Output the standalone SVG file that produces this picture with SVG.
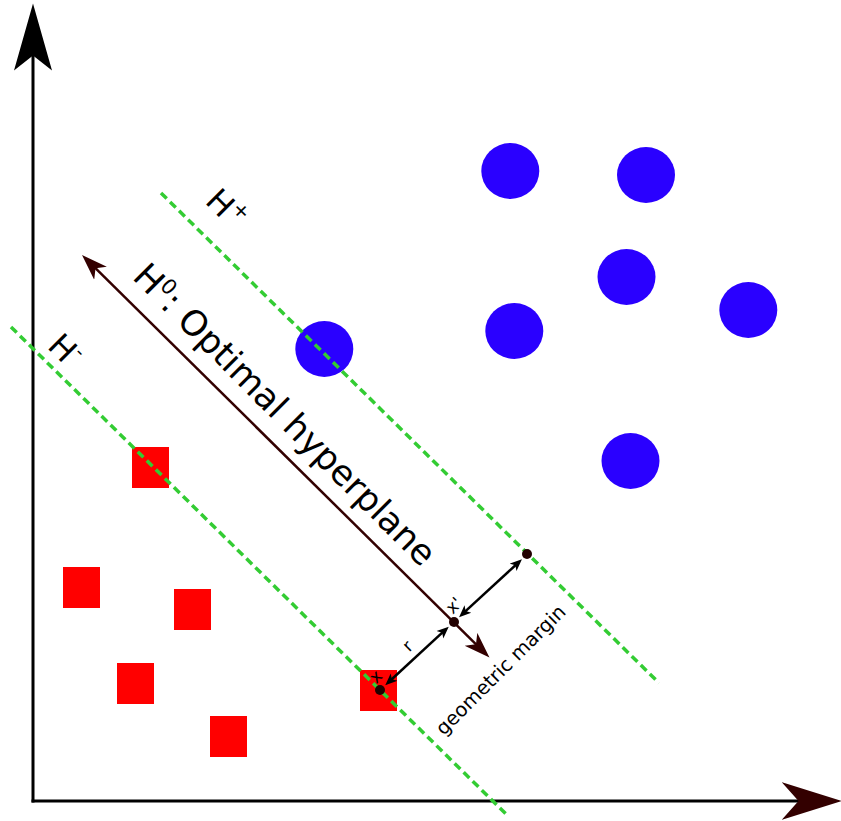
<svg xmlns="http://www.w3.org/2000/svg" width="841" height="821" viewBox="0 0 841 821">
<style>
  .txt { font-family: "DejaVu Sans", "Liberation Sans", sans-serif; fill: #000; }
  .blue { fill: #2a00ff; }
  .red { fill: #ff0000; }
  .margin { stroke: #33cc33; stroke-width: 3.5; stroke-dasharray: 8 4.7; fill: none; }
  .axis { stroke: #000; stroke-width: 3; fill: none; }
  .hyper { stroke: #330000; stroke-width: 2.5; fill: none; }
  .dbl { stroke: #000; stroke-width: 2.5; fill: none; }
  .pt { fill: #220000; }
</style>
<defs>
  <marker id="axV" markerUnits="userSpaceOnUse" viewBox="0 -20 68 40" refX="17" refY="0" markerWidth="68" markerHeight="40" orient="auto">
    <path d="M0,-19 L67,0 L0,19 L15,0 Z" fill="#000"/>
  </marker>
  <marker id="axH" markerUnits="userSpaceOnUse" viewBox="0 -20 61 40" refX="19" refY="0" markerWidth="61" markerHeight="40" orient="auto">
    <path d="M0,-19 L60,0 L0,19 L17,0 Z" fill="#330000"/>
  </marker>
  <marker id="hyp" markerUnits="userSpaceOnUse" viewBox="0 -10 27 20" refX="10" refY="0" markerWidth="27" markerHeight="20" orient="auto-start-reverse">
    <path d="M0,-9 L26,0 L0,9 L7,0 Z" fill="#330000"/>
  </marker>
  <marker id="sm" markerUnits="userSpaceOnUse" viewBox="0 -6 13 12" refX="5" refY="0" markerWidth="13" markerHeight="12" orient="auto-start-reverse">
    <path d="M0,-5 L12,0 L0,5 L3,0 Z" fill="#000"/>
  </marker>
</defs>

<g id="axes">
  <line class="axis" x1="33" y1="802.5" x2="33" y2="53.5" marker-end="url(#axV)"/>
  <line class="axis" x1="31.5" y1="801" x2="800.5" y2="801" marker-end="url(#axH)"/>
</g>

<g id="class-plus">
  <ellipse class="blue" cx="510.3" cy="171" rx="29" ry="28"/>
  <ellipse class="blue" cx="646" cy="175" rx="29" ry="28"/>
  <ellipse class="blue" cx="626.5" cy="277" rx="29" ry="28"/>
  <ellipse class="blue" cx="514.3" cy="331" rx="29" ry="28"/>
  <ellipse class="blue" cx="748.3" cy="310" rx="29" ry="28"/>
  <ellipse class="blue" cx="630.5" cy="461" rx="29" ry="28"/>
  <ellipse class="blue" cx="324.3" cy="349" rx="29" ry="28"/>
</g>

<g id="class-minus">
  <rect class="red" x="132" y="447" width="37" height="41"/>
  <rect class="red" x="63" y="567" width="37" height="41"/>
  <rect class="red" x="174" y="589" width="37" height="41"/>
  <rect class="red" x="117" y="663" width="37" height="41"/>
  <rect class="red" x="210" y="716" width="37" height="41"/>
  <rect class="red" x="360" y="670" width="37" height="41"/>
</g>

<g id="margins">
  <line class="margin" x1="161" y1="193" x2="659" y2="683"/>
  <line class="margin" x1="11" y1="327" x2="507" y2="815"/>
</g>

<g id="connectors">
  <line class="hyper" x1="93.4" y1="266.2" x2="478.1" y2="646.3" marker-start="url(#hyp)" marker-end="url(#hyp)"/>
  <line class="dbl" x1="390.4" y1="680.5" x2="443.6" y2="631.4" marker-start="url(#sm)" marker-end="url(#sm)"/>
  <line class="dbl" x1="464.2" y1="612.4" x2="516.8" y2="564.0" marker-start="url(#sm)" marker-end="url(#sm)"/>
</g>

<g id="points">
  <circle class="pt" cx="380" cy="690" r="5"/>
  <circle class="pt" cx="454" cy="622" r="5"/>
  <circle class="pt" cx="527" cy="554" r="5"/>
</g>

<g id="labels">
  <text class="txt" font-size="35" transform="translate(131.2,277.9) rotate(45)">H<tspan font-size="21" dy="-13">0</tspan><tspan dy="13">: Optimal hyperplane</tspan></text>
  <text class="txt" font-size="32" transform="translate(204,202.2) rotate(45)">H<tspan font-size="20" dy="-13.6">+</tspan></text>
  <text class="txt" font-size="32" transform="translate(46.2,347.2) rotate(45)">H<tspan font-size="19" dy="-14.5">-</tspan></text>
  <text class="txt" font-size="19.5" text-anchor="middle" transform="translate(505.4,674.6) rotate(-45)">geometric margin</text>
  <text class="txt" font-size="17" text-anchor="middle" transform="translate(411.6,650) rotate(-45)">r</text>
  <text class="txt" font-size="17" text-anchor="middle" transform="translate(458,609.6) rotate(-45)">x'</text>
  <text class="txt" font-size="17" text-anchor="middle" transform="translate(379.8,680.8) rotate(-45)">x</text>
</g>
</svg>
